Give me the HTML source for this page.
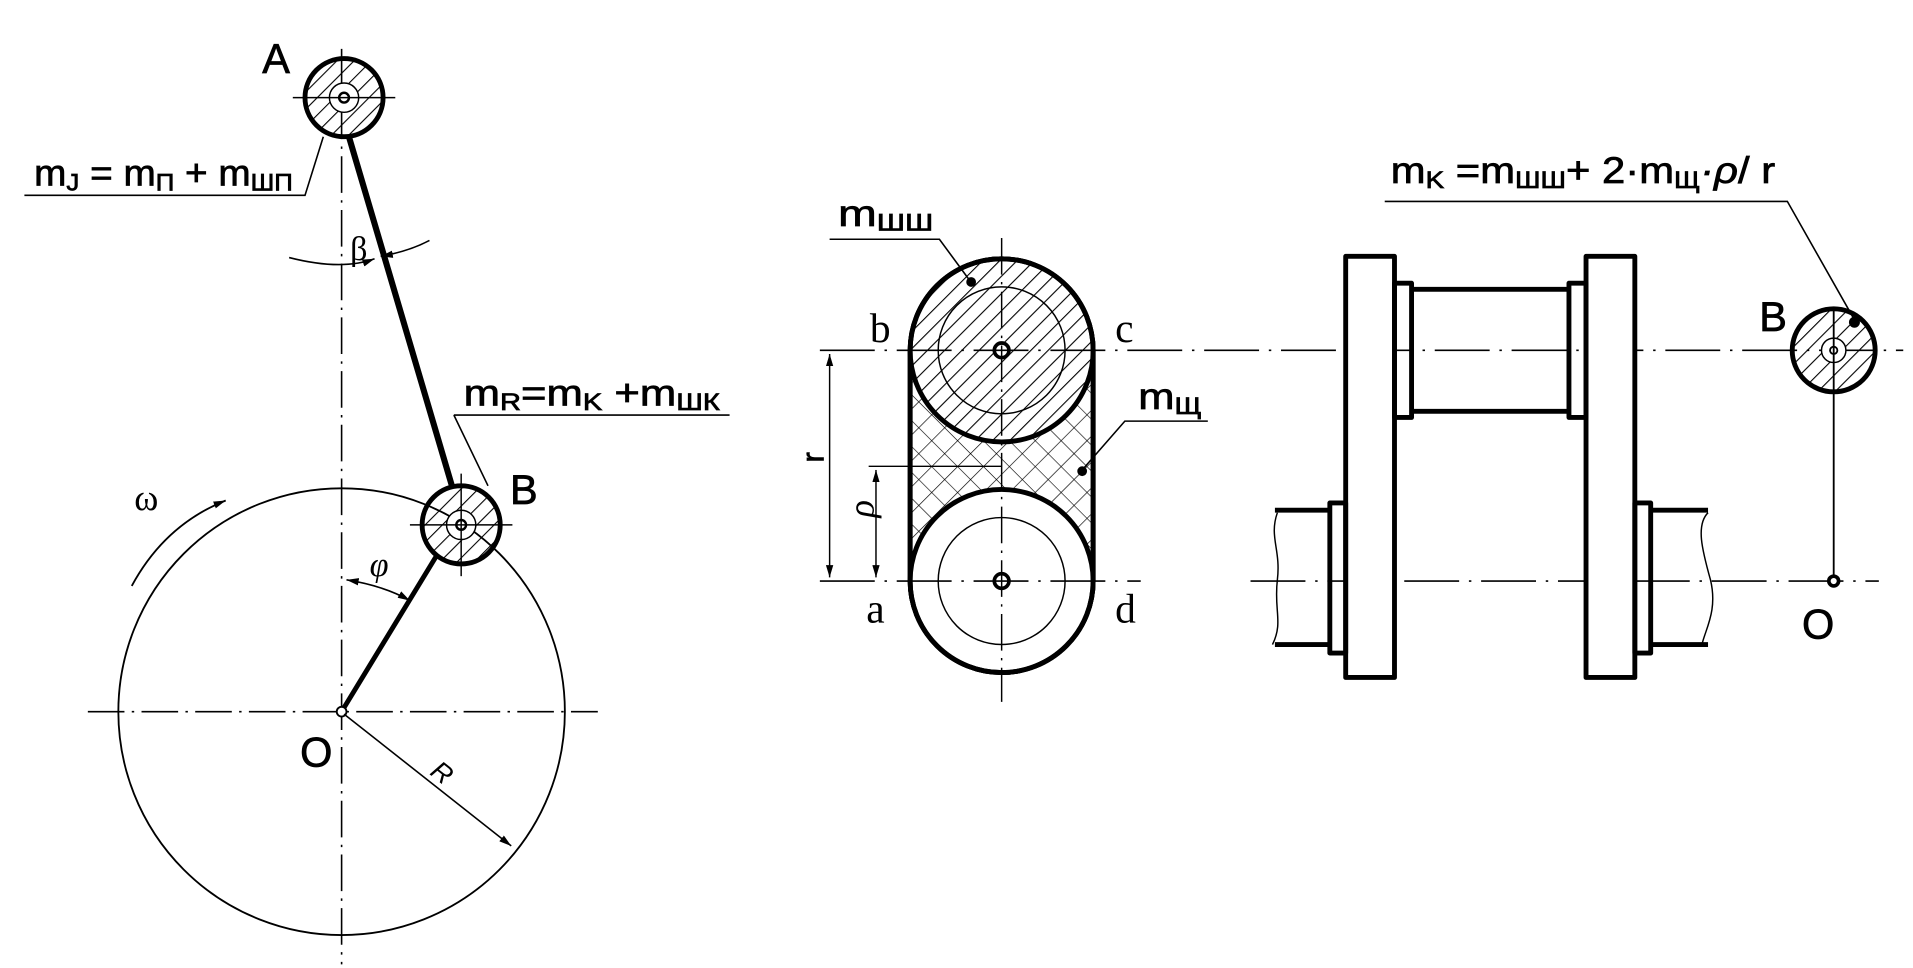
<!DOCTYPE html>
<html><head><meta charset="utf-8"><style>
html,body{margin:0;padding:0;background:#fff;width:1913px;height:968px;overflow:hidden}
svg{display:block}
text{font-family:"Liberation Sans","DejaVu Sans",sans-serif;fill:#000}
.s{font-family:"Liberation Serif",serif}
.lb{stroke:#000;stroke-width:0.6}
</style></head><body>
<svg width="1913" height="968" viewBox="0 0 1568 793" preserveAspectRatio="none" xmlns="http://www.w3.org/2000/svg">
<defs>
<pattern id="h" width="10" height="10" patternUnits="userSpaceOnUse" patternTransform="rotate(45)"><line x1="0" y1="0" x2="0" y2="10" stroke="#000" stroke-width="1.8"/></pattern>
<pattern id="x" width="15" height="15" patternUnits="userSpaceOnUse" patternTransform="rotate(45)"><line x1="0" y1="0" x2="0" y2="15" stroke="#000" stroke-width="1.1"/><line x1="0" y1="0" x2="15" y2="0" stroke="#000" stroke-width="1.1"/></pattern>
<marker id="ar" viewBox="0 0 10 6" refX="10" refY="3" markerWidth="10" markerHeight="6" orient="auto" markerUnits="userSpaceOnUse"><path d="M0,0 L10,3 L0,6 Z"/></marker>
<marker id="al" viewBox="0 0 10 6" refX="0" refY="3" markerWidth="10" markerHeight="6" orient="auto" markerUnits="userSpaceOnUse"><path d="M10,0 L0,3 L10,6 Z"/></marker>
</defs>
<g fill="none" stroke="#000">
<!-- LEFT -->
<circle cx="280" cy="583" r="183" stroke-width="1.5"/>
<line x1="280" y1="40" x2="280" y2="790" stroke-width="1.3" stroke-dasharray="30,6,2,6"/>
<line x1="72" y1="583" x2="490" y2="583" stroke-width="1.3" stroke-dasharray="30,6,2,6"/>
<line x1="286" y1="112" x2="371" y2="400" stroke-width="5"/>
<line x1="280" y1="583" x2="358" y2="455" stroke-width="4"/>
<circle cx="282" cy="80" r="32" fill="url(#h)" stroke-width="4"/>
<circle cx="282" cy="80" r="12" fill="#fff" stroke-width="1.2"/>
<circle cx="282" cy="80" r="4" stroke-width="2"/>
<line x1="240" y1="80" x2="324" y2="80" stroke-width="1.2"/>
<circle cx="378" cy="430" r="32" fill="url(#h)" stroke-width="4"/>
<circle cx="378" cy="430" r="12" fill="#fff" stroke-width="1.2"/>
<circle cx="378" cy="430" r="4" stroke-width="2"/>
<line x1="336" y1="430" x2="420" y2="430" stroke-width="1.2"/>
<line x1="378" y1="388" x2="378" y2="472" stroke-width="1.2"/>
<circle cx="280" cy="583" r="4" fill="#fff" stroke-width="1.5"/>
<path d="M20,160 H250 L265,112" stroke-width="1.3"/>
<path d="M372,340 H598 M372,340 L400,398" stroke-width="1.3"/>
<path d="M237,211 Q280,222 307,212" stroke-width="1.3" marker-end="url(#ar)"/>
<path d="M352,197 Q335,206 312,210" stroke-width="1.3" marker-end="url(#ar)"/>
<path d="M284,475 Q315,480 336,492" stroke-width="1.3" marker-start="url(#al)" marker-end="url(#ar)"/>
<path d="M108,480 Q135,430 185,410" stroke-width="1.5" marker-end="url(#ar)"/>
<line x1="282" y1="585" x2="419" y2="693" stroke-width="1.3" marker-end="url(#ar)"/>
<!-- MIDDLE -->
<path d="M746,287 A75,75 0 0 1 896,287 V476 A75,75 0 0 1 746,476 Z" fill="url(#x)" stroke-width="4"/>
<circle cx="821" cy="287" r="75" fill="#fff" stroke-width="4"/>
<circle cx="821" cy="287" r="75" fill="url(#h)" stroke="none"/>
<circle cx="821" cy="476" r="75" fill="#fff" stroke-width="4"/>
<path d="M746,287 A75,75 0 0 1 896,287" stroke-width="4"/>
<path d="M746,476 A75,75 0 0 0 896,476" stroke-width="4"/>
<line x1="746" y1="287" x2="746" y2="476" stroke-width="4"/>
<line x1="896" y1="287" x2="896" y2="476" stroke-width="4"/>
<circle cx="821" cy="287" r="52" stroke-width="1.2"/>
<circle cx="821" cy="476" r="52" stroke-width="1.2"/>
<circle cx="821" cy="287" r="6" fill="#fff" stroke-width="3"/>
<circle cx="821" cy="476" r="6" fill="#fff" stroke-width="3"/>
<line x1="821" y1="195" x2="821" y2="575" stroke-width="1.2" stroke-dasharray="30,6,2,6"/>
<line x1="672" y1="287" x2="1560" y2="287" stroke-width="1.3" stroke-dasharray="45,8,2,8"/>
<line x1="672" y1="476" x2="935" y2="476" stroke-width="1.3" stroke-dasharray="45,8,2,8"/>
<line x1="1025" y1="476" x2="1540" y2="476" stroke-width="1.3" stroke-dasharray="45,8,2,8"/>
<line x1="680" y1="290" x2="680" y2="473" stroke-width="1.2" marker-start="url(#al)" marker-end="url(#ar)"/>
<line x1="712" y1="382" x2="821" y2="382" stroke-width="1.2"/>
<line x1="718" y1="385" x2="718" y2="473" stroke-width="1.2" marker-start="url(#al)" marker-end="url(#ar)"/>
<path d="M680,196 H770 L795,230" stroke-width="1.3"/>
<path d="M990,345 H922 L887,385" stroke-width="1.3"/>
<circle cx="796" cy="231" r="3.5" fill="#000"/>
<circle cx="887" cy="386" r="3.5" fill="#000"/>
<!-- RIGHT crank -->
<g stroke-width="4" stroke-linejoin="round">
<rect x="1103" y="210" width="40" height="345" fill="#fff"/>
<rect x="1300" y="210" width="40" height="345" fill="#fff"/>
<rect x="1143" y="232" width="14" height="110"/>
<rect x="1286" y="232" width="14" height="110"/>
<line x1="1157" y1="237" x2="1286" y2="237"/>
<line x1="1157" y1="337" x2="1286" y2="337"/>
<rect x="1090" y="412" width="13" height="123"/>
<rect x="1340" y="412" width="13" height="123"/>
<line x1="1045" y1="418" x2="1090" y2="418"/>
<line x1="1045" y1="528" x2="1090" y2="528"/>
<line x1="1353" y1="418" x2="1400" y2="418"/>
<line x1="1353" y1="528" x2="1400" y2="528"/>
</g>
<path d="M1047,420 C1040,440 1050,450 1047,475 C1044,500 1052,510 1043,528" stroke-width="1.2"/>
<path d="M1400,420 C1390,430 1395,450 1402,475 C1408,500 1398,515 1395,528" stroke-width="1.2"/>
<circle cx="1503" cy="287" r="34" fill="url(#h)" stroke-width="4"/>
<circle cx="1503" cy="287" r="10" fill="#fff" stroke-width="1.2"/>
<circle cx="1503" cy="287" r="3" stroke-width="1.5"/>
<line x1="1503" y1="252" x2="1503" y2="476" stroke-width="1.5"/>
<circle cx="1503" cy="476" r="4" fill="#fff" stroke-width="3"/>
<path d="M1135,165 H1465 L1520,262" stroke-width="1.3"/>
<circle cx="1520" cy="264" r="4" fill="#000"/>
</g>
<!-- TEXT -->
<g font-size="34" class="lb">
<text x="215" y="60">A</text>
<text x="418" y="413">B</text>
<text x="246" y="628">O</text>
<text x="1442" y="271">B</text>
<text x="1477" y="523">O</text>
</g>
<g font-size="30" class="lb">
<text x="28" y="152" textLength="212" lengthAdjust="spacingAndGlyphs">m<tspan font-size="20" dy="4">J</tspan><tspan dy="-4"> = m</tspan><tspan font-size="20" dy="4">П</tspan><tspan dy="-4"> + m</tspan><tspan font-size="20" dy="4">ШП</tspan></text>
<text x="380" y="332" textLength="210" lengthAdjust="spacingAndGlyphs">m<tspan font-size="20" dy="4">R</tspan><tspan dy="-4">=m</tspan><tspan font-size="20" dy="4">K</tspan><tspan dy="-4"> +m</tspan><tspan font-size="20" dy="4">ШК</tspan></text>
<text x="687" y="185" textLength="78" lengthAdjust="spacingAndGlyphs">m<tspan font-size="20" dy="4">ШШ</tspan></text>
<text x="933" y="335" textLength="52" lengthAdjust="spacingAndGlyphs">m<tspan font-size="20" dy="4">Щ</tspan></text>
<text x="1140" y="150" textLength="315" lengthAdjust="spacingAndGlyphs">m<tspan font-size="20" dy="4">K</tspan><tspan dy="-4"> =m</tspan><tspan font-size="20" dy="4">ШШ</tspan><tspan dy="-4">+ 2·m</tspan><tspan font-size="20" dy="4">Щ</tspan><tspan dy="-4" font-style="italic">·ρ</tspan><tspan dy="0">/ r</tspan></text>
</g>
<g font-size="34">
<text class="s" x="713" y="280">b</text>
<text class="s" x="914" y="280">c</text>
<text class="s" x="710" y="510">a</text>
<text class="s" x="914" y="510">d</text>
<text class="s" x="110" y="418" font-size="30">ω</text>
<text class="s" x="287" y="213" font-size="28">β</text>
<text class="s" x="303" y="472" font-size="28" font-style="italic">φ</text>
</g>
<text x="355" y="640" font-size="22" font-style="italic" transform="rotate(38 362 632)">R</text>
<text x="676" y="390" font-size="26" class="lb" transform="rotate(-90 670 385)">r</text>
<text x="712" y="440" font-size="30" font-style="italic" class="s" transform="rotate(-90 706 430)">ρ</text>
</svg>
</body></html>
